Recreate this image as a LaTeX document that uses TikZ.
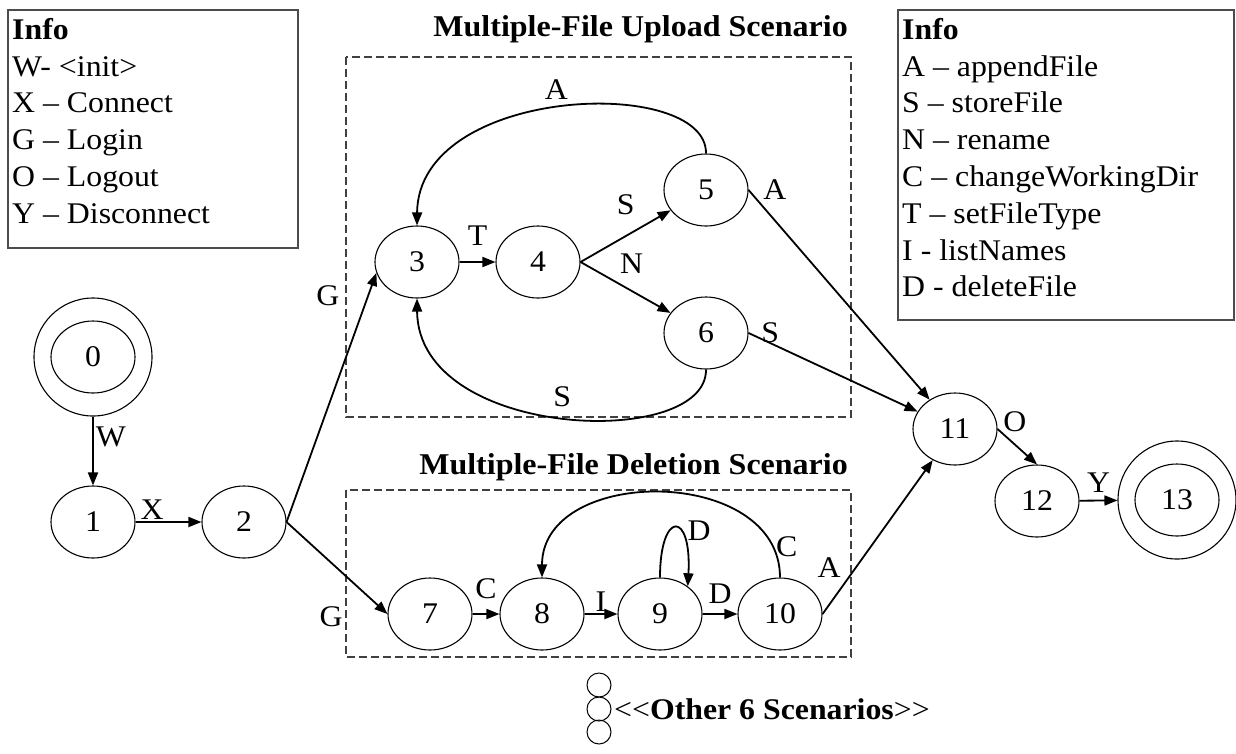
\documentclass[tikz,border=0pt]{standalone}
\usepackage{fontspec}
\setmainfont{Liberation Serif}[FakeStretch=1.06]
\usetikzlibrary{positioning,arrows.meta,shapes.geometric}
\newcommand{\txt}{\fontsize{30}{36.8}\selectfont}
\newcommand{\ttl}{\fontsize{30.2}{36}\selectfont\bfseries}
\tikzset{
  state/.style={draw, ellipse, line width=1.1pt, minimum width=84pt, minimum height=72pt, inner sep=0pt, font=\txt},
  final/.style={draw, circle, line width=1.1pt, minimum size=118pt, inner sep=0pt},
  flow/.style={-{Triangle[length=13pt,width=10pt]}, line width=1.8pt},
  lbl/.style={font=\txt, inner sep=2pt},
  scen/.style={draw=black!75, dash pattern=on 8pt off 4pt, line width=1.4pt},
  info/.style={draw=black!70, line width=2pt},
  infotext/.style={font=\txt, align=left, anchor=north west, inner sep=0pt},
  title/.style={font=\ttl, anchor=base east, inner sep=0pt},
  dot/.style={draw, circle, minimum size=24pt, inner sep=0pt, line width=1pt}
}
\begin{document}
\begin{tikzpicture}[x=1pt,y=-1pt]
  \useasboundingbox (0,0) rectangle (1236,753);

  \draw[info] (8,10) rectangle (298,248);
  \node[infotext] (legL) at (12,18) {\textbf{Info}\\W- <init>\\X -- Connect\\G -- Login\\O -- Logout\\Y -- Disconnect};
  \draw[info] (898,10) rectangle (1234,320);
  \node[infotext] (legR) at (902,18) {\textbf{Info}\\A -- appendFile\\S -- storeFile\\N -- rename\\C -- changeWorkingDir\\T -- setFileType\\I - listNames\\D - deleteFile};

  \draw[scen] (346,57) rectangle (851,417);
  \draw[scen] (346,490) rectangle (851,657);
  \node[title] (uptitle) at (848,36) {Multiple-File Upload Scenario};
  \node[title] (deltitle) at (848,474) {Multiple-File Deletion Scenario};

  \node[state] (s0) at (93,357) {0};
  \node[final] (s0o) at (93,357) {};
  \node[state] (s1) at (93,522) {1};
  \node[state] (s2) at (244,522) {2};
  \node[state] (s3) at (417,262) {3};
  \node[state] (s4) at (538,262) {4};
  \node[state] (s5) at (706,190) {5};
  \node[state] (s6) at (706,333) {6};
  \node[state] (s7) at (430,614) {7};
  \node[state] (s8) at (542,614) {8};
  \node[state] (s9) at (660,614) {9};
  \node[state] (s10) at (780,614) {10};
  \node[state] (s11) at (955,429) {11};
  \node[state] (s12) at (1037,501) {12};
  \node[state] (s13) at (1177,500) {13};
  \node[final] (s13o) at (1177,500) {};

  \draw[flow] (s0o) -- node[lbl, right, pos=0.3] {W} (s1);
  \draw[flow] (s1) -- node[lbl, above=0pt, pos=0.25] {X} (s2);
  \draw[flow] (s2.east) -- node[lbl, pos=0.91, left=26pt] {G} (s3.195);
  \draw[flow] (s2.east) -- node[lbl, pos=1, left=42pt, yshift=-3pt] {G} (s7.west);
  \draw[flow] (s3) -- node[lbl, above=14pt] {T} (s4);
  \draw[flow] (s4.east) -- node[lbl, above=18pt] {S} (s5);
  \draw[flow] (s4.east) -- node[lbl, above=11pt, xshift=6pt] {N} (s6);
  \draw[flow] (s5.north) .. controls (707,75) and (418,85) .. node[lbl, above=5pt, xshift=-6pt] {A} (s3.north);
  \draw[flow] (s6.south) .. controls (707,450) and (418,440) .. node[lbl, above=8pt] {S} (s3.south);
  \draw[flow] (s5.east) -- node[lbl, pos=0, anchor=west, xshift=12pt] {A} (s11);
  \draw[flow] (s6.east) -- node[lbl, pos=0, anchor=west, xshift=10pt] {S} (s11);

  \draw[flow] (s7) -- node[lbl, above=12pt] {C} (s8);
  \draw[flow] (s8) -- node[lbl, above=0pt] {I} (s9);
  \draw[flow] (s9) -- node[lbl, above=8pt] {D} (s10);
  \draw[flow] (s9.north) .. controls (660,510) and (692,510) .. node[lbl, pos=0.6, right=5pt] {D} (s9.45);
  \draw[flow] (s10.north) .. controls (780,465) and (542,465) .. node[lbl, pos=0.1, right] {C} (s8.north);
  \draw[flow] (s10.east) -- node[lbl, pos=0.3, left=12pt] {A} (s11);

  \draw[flow] (s11.east) -- node[lbl, pos=0, anchor=west, xshift=3pt, yshift=7pt] {O} (s12.north);
  \draw[flow] (s12) -- node[lbl, above=5pt] {Y} (s13o);

  \foreach \yy [count=\k] in {685,709,732}
    \node[dot] (dot\k) at (599,\yy) {};
  \node[lbl, anchor=west] (others) at (612,709) {<\kern0pt<\textbf{Other 6 Scenarios}>\kern0pt>};
\end{tikzpicture}
\end{document}
